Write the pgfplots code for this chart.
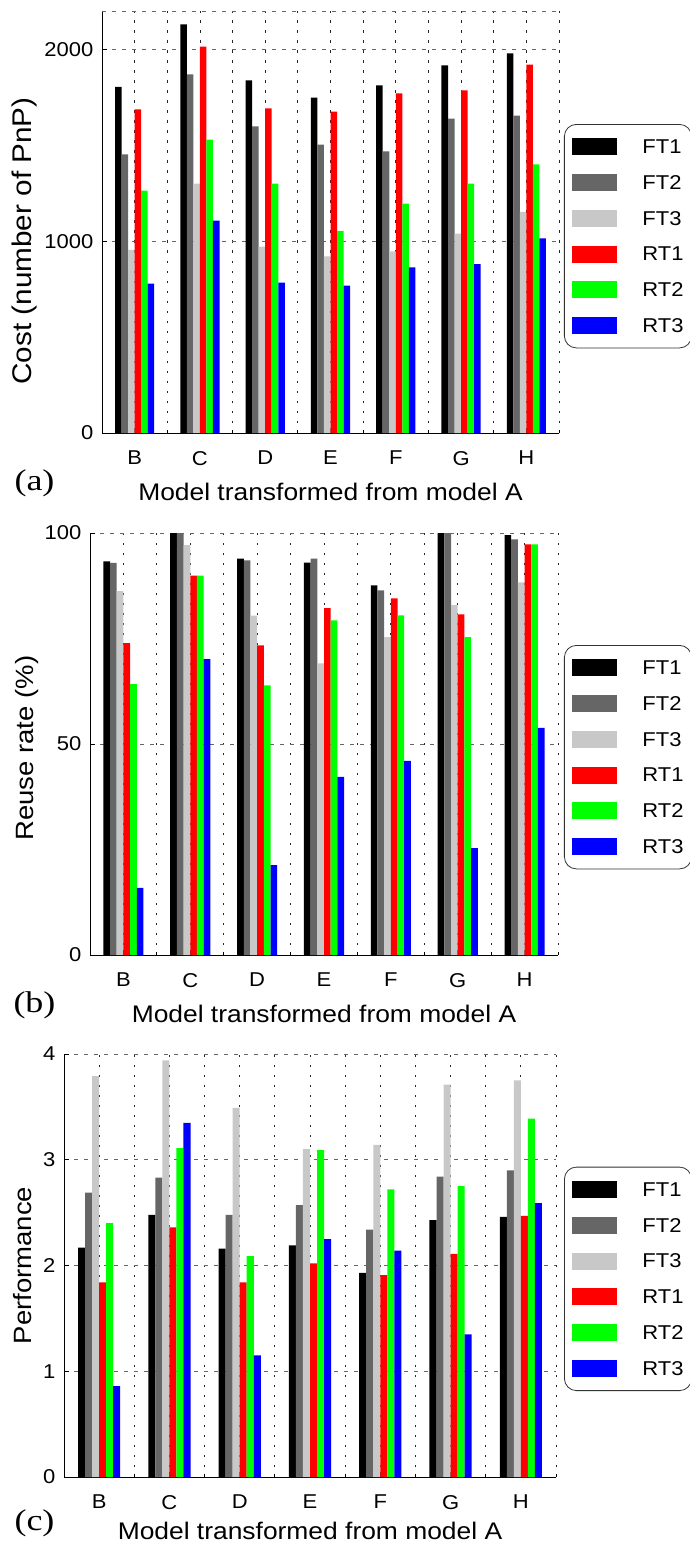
\documentclass[border=0pt]{standalone}
\usepackage{fontspec}
\setmainfont{Liberation Sans}[FakeStretch=1.1]
\newfontfamily\panelfont{Liberation Serif}[FakeStretch=1.2]
\usepackage{pgfplots}
\usepackage{pgfplotstable}
\pgfplotsset{compat=1.18}
\definecolor{cFTa}{HTML}{000000}
\definecolor{cFTb}{HTML}{666666}
\definecolor{cFTc}{HTML}{C8C8C8}
\definecolor{cRTa}{HTML}{FF0000}
\definecolor{cRTb}{HTML}{00FF00}
\definecolor{cRTc}{HTML}{0000FF}

\pgfplotstableread{
x FTa FTb FTc RTa RTb RTc
0 1805 1452 955 1687 1264 779
1 2130 1869 1300 2014 1530 1107
2 1838 1598 972 1692 1300 784
3 1748 1504 921 1676 1054 768
4 1812 1468 947 1770 1196 864
5 1916 1639 1040 1786 1300 880
6 1979 1655 1153 1921 1400 1014
}\costtab

\pgfplotstableread{
x FTa FTb FTc RTa RTb RTc
0 93.3 92.9 86.2 73.9 64.2 15.9
1 100 100 97.1 89.9 89.9 70.1
2 93.9 93.5 80.4 73.4 63.9 21.3
3 93.0 93.9 69.1 82.2 79.3 42.2
4 87.6 86.4 75.3 84.5 80.5 46.0
5 100 100 82.9 80.7 75.3 25.3
6 99.5 98.5 88.3 97.3 97.3 53.8
}\reusetab

\pgfplotstableread{
x FTa FTb FTc RTa RTb RTc
0 2.17 2.69 3.79 1.84 2.40 0.86
1 2.48 2.83 3.94 2.36 3.11 3.35
2 2.16 2.48 3.49 1.84 2.09 1.15
3 2.19 2.57 3.10 2.02 3.09 2.25
4 1.93 2.34 3.14 1.91 2.72 2.14
5 2.43 2.84 3.71 2.11 2.75 1.35
6 2.46 2.90 3.75 2.47 3.39 2.59
}\perftab

\pgfplotsset{
 common/.style={
  scale only axis, ybar, bar width=0.1,
  xmin=-0.5, xmax=6.5, ymin=0,
  xtick={0,...,6}, xticklabels={B,C,D,E,F,G,H},
  minor xtick={-0.5,0.5,...,6.5},
  axis x line*=bottom, axis y line*=left,
  axis line style={-, black, line width=0.8pt},
  tick pos=left, tick align=inside,
  major tick length=5pt, minor tick length=3pt,
  tick style={black, line width=0.8pt},
  xmajorgrids, xminorgrids, ymajorgrids,
  major x grid style={black!85, line width=0.8pt, dash pattern=on 2.5pt off 7.5pt},
  minor x grid style={black!85, line width=0.8pt, dash pattern=on 2.5pt off 7.5pt},
  major y grid style={black!60, line width=0.8pt, dash pattern=on 4pt off 6pt},
  extra y tick labels={}, extra y tick style={major tick length=0pt, grid=major},
  tick label style={font=\fontsize{20}{23}\selectfont},
  /pgf/number format/assume math mode=true,
  /pgf/number format/1000 sep={},
  scaled y ticks=false,
  xticklabel style={anchor=north, inner sep=0pt, yshift=-18pt},
  yticklabel style={anchor=east, inner sep=0pt, xshift=-8.5pt},
  label style={font=\fontsize{24}{28}\selectfont},
  xlabel={Model transformed from model A},
  xlabel style={at={(axis description cs:0.5,0)}, anchor=north, inner sep=0pt, yshift=-50pt},
  legend image code/.code={\fill[##1, sharp corners] (0pt,-8.5pt) rectangle (45pt,8.5pt);},
  legend style={anchor=north west, draw=black!80, line width=0.8pt, rounded corners=12pt,
    inner xsep=8pt, inner ysep=14pt, column sep=25pt, row sep=18.7pt,
    cells={anchor=west}, nodes={inner sep=0pt, text depth=0pt},
    font=\fontsize{20}{23}\selectfont},
 },
 s1/.style={fill=cFTa, draw=none, bar shift=-0.25},
 s2/.style={fill=cFTb, draw=none, bar shift=-0.15},
 s3/.style={fill=cFTc, draw=none, bar shift=-0.05},
 s4/.style={fill=cRTa, draw=none, bar shift=0.05},
 s5/.style={fill=cRTb, draw=none, bar shift=0.15},
 s6/.style={fill=cRTc, draw=none, bar shift=0.25},
}

\begin{document}
\begin{tikzpicture}
\useasboundingbox (0pt,0pt) rectangle (689pt,-1546pt);

% (a)
\begin{axis}[common,
  at={(102pt,-433pt)}, anchor=south west, width=457pt, height=422pt,
  ymax=2200, ytick={0,1000,2000}, extra y ticks={2200},
  ylabel={Cost (number of PnP)},
  ylabel style={at={(axis description cs:-0.1685,0.455)}, anchor=center, font=\fontsize{27}{31}\selectfont},
  legend style={at={(axis description cs:1.0109,0.7322)}},
]
\addplot[s1] table[x=x,y=FTa]{\costtab};
\addplot[s2] table[x=x,y=FTb]{\costtab};
\addplot[s3] table[x=x,y=FTc]{\costtab};
\addplot[s4] table[x=x,y=RTa]{\costtab};
\addplot[s5] table[x=x,y=RTb]{\costtab};
\addplot[s6] table[x=x,y=RTc]{\costtab};
\legend{FT1,FT2,FT3,RT1,RT2,RT3}
\end{axis}

% (b)
\begin{axis}[common,
  at={(90pt,-955pt)}, anchor=south west, width=468pt, height=422pt,
  ymax=100, ytick={0,50,100},
  ylabel={Reuse rate (\%)},
  ylabel style={at={(axis description cs:-0.1335,0.49)}, anchor=center, font=\fontsize{25}{29}\selectfont},
  legend style={at={(axis description cs:1.0128,0.7346)}},
]
\addplot[s1] table[x=x,y=FTa]{\reusetab};
\addplot[s2] table[x=x,y=FTb]{\reusetab};
\addplot[s3] table[x=x,y=FTc]{\reusetab};
\addplot[s4] table[x=x,y=RTa]{\reusetab};
\addplot[s5] table[x=x,y=RTb]{\reusetab};
\addplot[s6] table[x=x,y=RTc]{\reusetab};
\legend{FT1,FT2,FT3,RT1,RT2,RT3}
\end{axis}

% (c)
\begin{axis}[common,
  at={(64pt,-1477pt)}, anchor=south west, width=492pt, height=423pt,
  ymax=4, ytick={0,1,2,3,4},
  ylabel={Performance},
  ylabel style={at={(axis description cs:-0.0833,0.5)}, anchor=center, font=\fontsize{25}{29}\selectfont},
  xlabel style={yshift=5pt},
  legend style={at={(axis description cs:1.0163,0.7336)}},
]
\addplot[s1] table[x=x,y=FTa]{\perftab};
\addplot[s2] table[x=x,y=FTb]{\perftab};
\addplot[s3] table[x=x,y=FTc]{\perftab};
\addplot[s4] table[x=x,y=RTa]{\perftab};
\addplot[s5] table[x=x,y=RTb]{\perftab};
\addplot[s6] table[x=x,y=RTc]{\perftab};
\legend{FT1,FT2,FT3,RT1,RT2,RT3}
\end{axis}

\node[font=\panelfont\fontsize{30}{34}\selectfont, inner sep=0pt] at (34.5pt,-483.5pt) {(a)};
\node[font=\panelfont\fontsize{30}{34}\selectfont, inner sep=0pt] at (34.5pt,-1005.5pt) {(b)};
\node[font=\panelfont\fontsize{30}{34}\selectfont, inner sep=0pt] at (34.5pt,-1523pt) {(c)};
\end{tikzpicture}
\end{document}
